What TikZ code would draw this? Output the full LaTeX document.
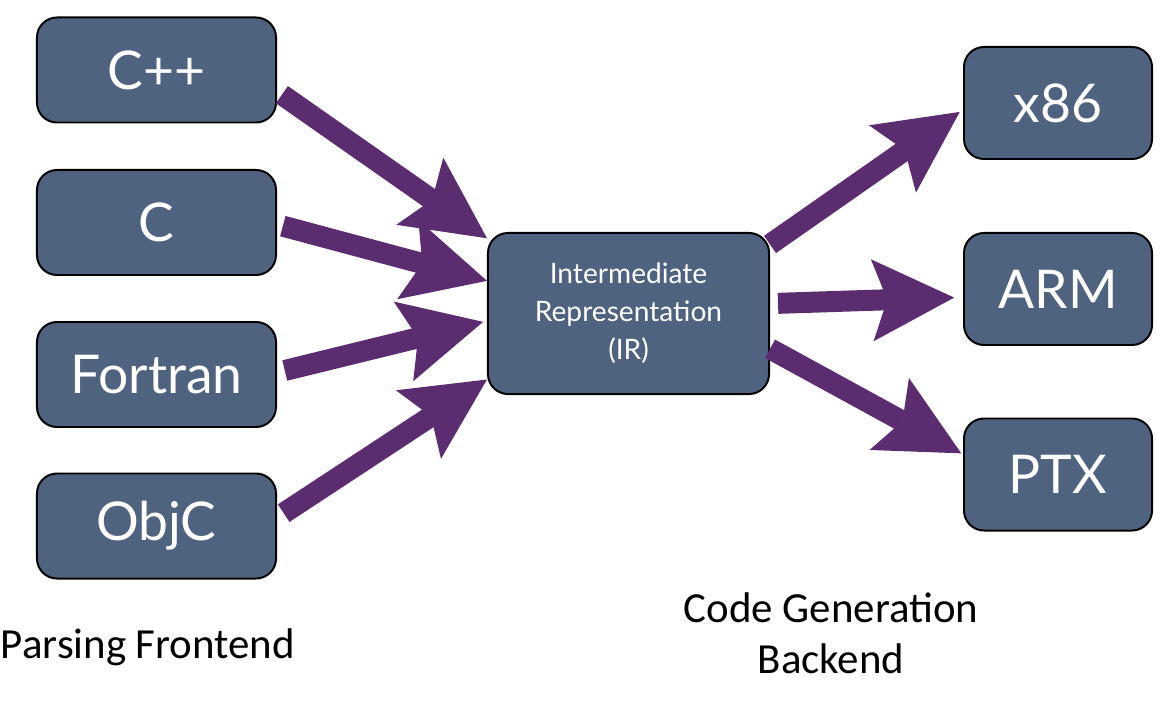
\documentclass[tikz,border=0pt]{standalone}
\usepackage{fontspec}
\setmainfont{Lato}
\newfontfamily\calibri{Carlito}
\usetikzlibrary{arrows.meta}
\definecolor{boxblue}{RGB}{79,99,128}
\definecolor{flowpurple}{RGB}{91,44,111}
\tikzset{
  lang/.style={draw=black, line width=1.4pt, fill=boxblue, rounded corners=0.5cm, text=white,
    minimum width=5.975cm, minimum height=2.625cm, font=\fontsize{38}{42}\selectfont},
  target/.style={lang, minimum width=4.7cm, minimum height=2.8cm},
  inter/.style={lang, minimum width=7.025cm, minimum height=4.025cm, align=center,
    font=\fontsize{20}{27}\selectfont},
  flow/.style={flowpurple, line width=0.525cm,
    -{Stealth[length=2.05cm, width=2.05cm, inset=0.375cm, line width=0pt]}},
  caption/.style={font=\calibri\fontsize{30.5}{36}\selectfont, align=center}
}
\begin{document}
\begin{tikzpicture}[x=0.025cm, y=-0.025cm]
\useasboundingbox (0,0) rectangle (1176,701);
\node[lang] (cpp) at (156.5,70) {C++};
\node[lang] (c) at (156.5,222.5) {C};
\node[lang] (fortran) at (156.5,374.5) {Fortran};
\node[lang] (objc) at (156.5,526) {ObjC};
\node[inter] (ir) at (628.5,313.5) {Intermediate\\Representation\\(IR)};
\node[target] (x86) at (1058,103) {x86};
\node[target] (arm) at (1058,289) {ARM};
\node[target] (ptx) at (1058,474.5) {PTX};
\draw[flow, shorten <=0.15cm] (cpp.-10) -- (ir.152);
\draw[flow, shorten <=0.15cm] (c.-1) -- (ir.167);
\draw[flow, shorten <=0.2cm, shorten >=0.1cm] (fortran.1) -- (ir.-177);
\draw[flow, shorten <=0.2cm] (objc.4) -- (ir.-155);
\draw[flow, shorten >=0.1cm] (ir.26.5) -- (x86.-176.5);
\draw[flow, shorten <=0.2cm, shorten >=0.22cm] (ir.4.4) -- (arm.-175);
\draw[flow, shorten >=0.05cm] (ir.-14.5) -- (ptx.168.6);
\node[caption] (front) at (148,647) {Parsing Frontend};
\node[caption] (back) at (831,633) {Code Generation\\Backend};
\end{tikzpicture}
\end{document}
